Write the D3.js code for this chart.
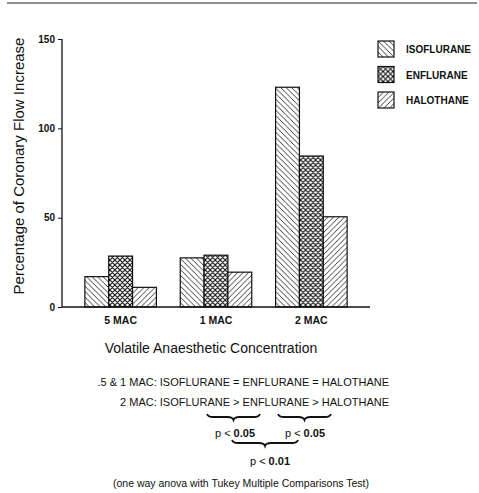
<!DOCTYPE html>
<html>
<head>
<meta charset="utf-8">
<script src="https://cdn.jsdelivr.net/npm/d3@7"></script>
<style>
  body { margin: 0; background: #fff; }
  svg { display: block; font-family: "Liberation Sans", Arial, Helvetica, sans-serif; }
</style>
</head>
<body>
<svg id="chart" width="479" height="493"></svg>
<script>
// Coronary flow increase by anaesthetic and concentration

const categories = ["5 MAC", "1 MAC", "2 MAC"];
const agents = ["ISOFLURANE", "ENFLURANE", "HALOTHANE"];
const isoflurane = [17, 27.5, 123];
const enflurane = [28.5, 29, 84.5];
const halothane = [11, 19.5, 50.5];
const yTicks = [0, 50, 100, 150];

const seriesValues = [isoflurane, enflurane, halothane];
const patternIds = ["pat-iso", "pat-enf", "pat-hal"];

const svg = d3.select("#chart");

// hatch patterns
const defs = svg.append("defs");

const iso = defs.append("pattern").attr("id", "pat-iso")
    .attr("patternUnits", "userSpaceOnUse").attr("width", 5.5).attr("height", 5.5);
iso.append("rect").attr("width", 5.5).attr("height", 5.5).attr("fill", "#fff");
iso.append("path").attr("d", "M-1,-1 L6.5,6.5 M-1,4.5 L1,6.5 M4.5,-1 L6.5,1")
    .attr("stroke", "#222").attr("stroke-width", 0.9);

const enf = defs.append("pattern").attr("id", "pat-enf")
    .attr("patternUnits", "userSpaceOnUse").attr("width", 5).attr("height", 5);
enf.append("rect").attr("width", 5).attr("height", 5).attr("fill", "#fff");
enf.append("path").attr("d", "M-1,-1 L6,6 M-1,4 L1,6 M4,-1 L6,1 M-1,6 L6,-1 M-1,1 L1,-1 M4,6 L6,4")
    .attr("stroke", "#111").attr("stroke-width", 1.1);

const hal = defs.append("pattern").attr("id", "pat-hal")
    .attr("patternUnits", "userSpaceOnUse").attr("width", 5.5).attr("height", 5.5);
hal.append("rect").attr("width", 5.5).attr("height", 5.5).attr("fill", "#fff");
hal.append("path").attr("d", "M-1,6.5 L6.5,-1 M-1,1 L1,-1 M4.5,6.5 L6.5,4.5")
    .attr("stroke", "#222").attr("stroke-width", 0.9);

// scan edge at top
svg.append("line").attr("x1", 7).attr("x2", 477).attr("y1", 3).attr("y2", 3)
    .attr("stroke", "#222").attr("stroke-width", 1.2);

const y = d3.scaleLinear().domain([0, 150]).range([307, 39]);
const x = d3.scaleBand().domain(categories).range([62, 370])
    .paddingInner(0.25).paddingOuter(0.24);
const xSub = d3.scaleBand().domain(agents).range([0, x.bandwidth()]);

// y axis
const yAxis = svg.append("g").attr("transform", "translate(62,0)")
    .call(d3.axisLeft(y).tickValues(yTicks).tickSize(4).tickPadding(3));
yAxis.select(".domain").attr("stroke", "#111").attr("stroke-width", 1.3)
    .attr("d", `M0,${y(150)}V${y(0)}`);
yAxis.selectAll(".tick line").attr("stroke", "#111");
yAxis.selectAll(".tick text").attr("font-size", 10).attr("font-weight", "bold").attr("fill", "#111");

// bars
const groups = svg.append("g").selectAll("g")
    .data(categories)
    .join("g")
    .attr("transform", d => `translate(${x(d)},0)`);

groups.selectAll("rect")
    .data((d, i) => agents.map((a, j) => ({ agent: a, value: seriesValues[j][i], j })))
    .join("rect")
    .attr("x", d => xSub(d.agent))
    .attr("y", d => y(d.value))
    .attr("width", xSub.bandwidth())
    .attr("height", d => y(0) - y(d.value))
    .attr("fill", d => `url(#${patternIds[d.j]})`)
    .attr("stroke", "#111")
    .attr("stroke-width", 1.2);

// baseline
svg.append("line").attr("x1", 62).attr("x2", 370).attr("y1", y(0)).attr("y2", y(0))
    .attr("stroke", "#111").attr("stroke-width", 1.3);

// category labels
svg.append("g").selectAll("text")
    .data(categories)
    .join("text")
    .attr("x", d => x(d) + x.bandwidth() / 2)
    .attr("y", 324)
    .attr("text-anchor", "middle")
    .attr("font-size", 10.5)
    .attr("font-weight", "bold")
    .attr("fill", "#111")
    .text(d => d);

// axis titles
svg.append("text")
    .attr("x", 211).attr("y", 353)
    .attr("text-anchor", "middle")
    .attr("font-size", 14)
    .attr("fill", "#111")
    .text("Volatile Anaesthetic Concentration");

svg.append("text")
    .attr("transform", "translate(24,166) rotate(-90)")
    .attr("text-anchor", "middle")
    .attr("font-size", 15)
    .attr("fill", "#111")
    .text("Percentage of Coronary Flow Increase");

// legend
const legend = svg.append("g").attr("transform", "translate(378,41)");
const legendRow = legend.selectAll("g")
    .data(agents)
    .join("g")
    .attr("transform", (d, i) => `translate(0,${i * 25.5})`);
legendRow.append("rect")
    .attr("width", 16).attr("height", 16)
    .attr("fill", (d, i) => `url(#${patternIds[i]})`)
    .attr("stroke", "#111").attr("stroke-width", 1.2);
legendRow.append("text")
    .attr("x", 28).attr("y", 12)
    .attr("font-size", 10)
    .attr("font-weight", "bold")
    .attr("fill", "#111")
    .text(d => d);

// statistics notes
const notes = svg.append("g").attr("font-size", 11).attr("fill", "#111");
notes.append("text").attr("x", 389).attr("y", 386).attr("text-anchor", "end")
    .text(".5 & 1 MAC: ISOFLURANE = ENFLURANE = HALOTHANE");
notes.append("text").attr("x", 389).attr("y", 406).attr("text-anchor", "end")
    .text("2 MAC: ISOFLURANE > ENFLURANE > HALOTHANE");

function brace(x1, x2, yTop, h) {
    const xm = (x1 + x2) / 2, q = 6;
    return `M${x1},${yTop} Q${x1 + 1},${yTop + h / 2} ${x1 + q},${yTop + h / 2}` +
        ` L${xm - q},${yTop + h / 2} Q${xm - 1},${yTop + h / 2} ${xm},${yTop + h}` +
        ` Q${xm + 1},${yTop + h / 2} ${xm + q},${yTop + h / 2}` +
        ` L${x2 - q},${yTop + h / 2} Q${x2 - 1},${yTop + h / 2} ${x2},${yTop}`;
}

const braces = [[207, 260, 414], [278, 331, 414], [232, 298, 440]];
notes.selectAll("path.brace")
    .data(braces)
    .join("path")
    .attr("class", "brace")
    .attr("d", d => brace(d[0], d[1], d[2], 6))
    .attr("fill", "none")
    .attr("stroke", "#111")
    .attr("stroke-width", 1.8);

const pLabels = [[235, 437, "0.05"], [305, 437, "0.05"], [270, 465, "0.01"]];
pLabels.forEach(([px, py, v]) => {
    const t = notes.append("text").attr("x", px).attr("y", py).attr("text-anchor", "middle");
    t.append("tspan").text("p < ");
    t.append("tspan").attr("font-weight", "bold").text(v);
});

notes.append("text").attr("x", 241).attr("y", 487).attr("text-anchor", "middle")
    .attr("font-size", 10.5)
    .text("(one way anova with Tukey Multiple Comparisons Test)");
</script>
</body>
</html>
